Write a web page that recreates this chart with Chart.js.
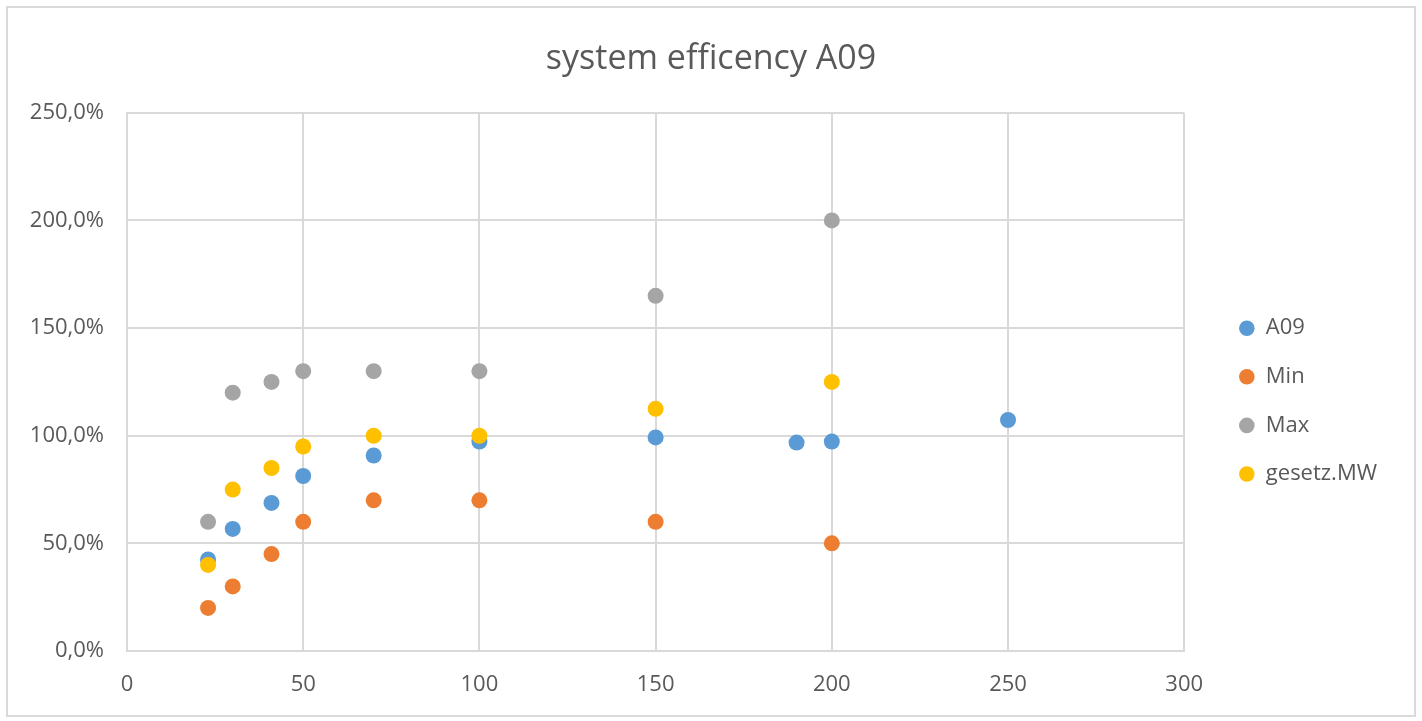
<!DOCTYPE html>
<html>
<head>
<meta charset="utf-8">
<title>system efficency A09</title>
<script src="https://cdn.jsdelivr.net/npm/chart.js@4/dist/chart.umd.min.js"></script>
<style>
    html, body {
        margin: 0;
        padding: 0;
        background: #ffffff;
    }
    #wrap {
        position: relative;
        width: 1422px;
        height: 721px;
    }
    #frame {
        position: absolute;
        left: 6px;
        top: 6px;
        width: 1406px;
        height: 707px;
        border: 2px solid #d9d9d9;
        pointer-events: none;
    }
</style>
</head>
<body>
<div id="wrap">
    <canvas id="chart" width="1422" height="721"></canvas>
    <div id="frame"></div>
</div>
<script>
/* global Chart */

const seriesNames = ['A09', 'Min', 'Max', 'gesetz.MW'];
const seriesColors = ['#5b9bd5', '#ed7d31', '#a5a5a5', '#ffc000'];

// x values per series (load / size), y values in percent
const a09X = [23, 30, 41, 50, 70, 100, 150, 190, 200, 250];
const a09Y = [42.5, 56.7, 68.8, 81.3, 90.8, 97.3, 99.2, 96.8, 97.3, 107.3];

const minX = [23, 30, 41, 50, 70, 100, 150, 200];
const minY = [20, 30, 45, 60, 70, 70, 60, 50];

const maxX = [23, 30, 41, 50, 70, 100, 150, 200];
const maxY = [60, 120, 125, 130, 130, 130, 165, 200];

const mwX = [23, 30, 41, 50, 70, 100, 150, 200];
const mwY = [40, 75, 85, 95, 100, 100, 112.5, 125];

const xTicks = [0, 50, 100, 150, 200, 250, 300];
const yTicks = [0, 50, 100, 150, 200, 250];

const textColor = '#595959';
const gridColor = '#d9d9d9';
const fontFamily = '"Open Sans", "Noto Sans", sans-serif';

const toPoints = (xs, ys) => xs.map((x, i) => ({ x, y: ys[i] }));

const formatPercent = (value) => value.toFixed(1).replace('.', ',') + '%';

const seriesData = [
    toPoints(a09X, a09Y),
    toPoints(minX, minY),
    toPoints(maxX, maxY),
    toPoints(mwX, mwY)
];

// later series are painted on top, like the original
const datasets = seriesNames.map((name, index) => ({
    label: name,
    data: seriesData[index],
    backgroundColor: seriesColors[index],
    borderColor: seriesColors[index],
    borderWidth: 0,
    pointRadius: 8,
    pointHoverRadius: 8,
    pointStyle: 'circle',
    order: seriesNames.length - index
}));

// empty right-hand axes, only used as fixed-width gaps around the legend
const spacerAxis = (width, weight) => ({
    type: 'linear',
    position: 'right',
    display: true,
    weight,
    grid: { display: false },
    border: { display: false },
    ticks: { display: false },
    afterFit: (scale) => {
        scale.width = width;
    }
});

new Chart(document.getElementById('chart'), {
    type: 'scatter',
    data: { datasets },
    options: {
        responsive: false,
        animation: false,
        layout: {
            padding: { left: 5, right: 5, top: 0, bottom: 24 }
        },
        plugins: {
            title: {
                display: true,
                text: 'system efficency A09',
                color: textColor,
                font: { family: fontFamily, size: 34, weight: 'normal' },
                padding: { top: 39, bottom: 33 }
            },
            legend: {
                position: 'right',
                fullSize: false,
                align: 'center',
                title: {
                    display: true,
                    text: '',
                    font: { size: 2 },
                    padding: { top: 36, bottom: 0 }
                },
                labels: {
                    usePointStyle: true,
                    boxWidth: 16,
                    boxHeight: 11,
                    padding: 26.6,
                    color: textColor,
                    font: { family: fontFamily, size: 22 },
                    sort: (a, b) => a.datasetIndex - b.datasetIndex
                }
            },
            tooltip: { enabled: false }
        },
        scales: {
            x: {
                type: 'linear',
                min: xTicks[0],
                max: xTicks[xTicks.length - 1],
                afterBuildTicks: (scale) => {
                    scale.ticks = xTicks.map((value) => ({ value }));
                },
                afterFit: (scale) => {
                    scale.height = 46;
                },
                grid: { color: gridColor, lineWidth: 2, drawTicks: false },
                border: { color: gridColor, width: 2 },
                ticks: {
                    color: textColor,
                    padding: 21,
                    font: { family: fontFamily, size: 22 }
                }
            },
            y: {
                type: 'linear',
                min: yTicks[0],
                max: yTicks[yTicks.length - 1],
                afterBuildTicks: (scale) => {
                    scale.ticks = yTicks.map((value) => ({ value }));
                },
                afterFit: (scale) => {
                    scale.width = 122;
                },
                grid: { color: gridColor, lineWidth: 2, drawTicks: false },
                border: { color: gridColor, width: 2 },
                ticks: {
                    color: textColor,
                    padding: 23,
                    font: { family: fontFamily, size: 22 },
                    callback: (value) => formatPercent(value)
                }
            },
            gapInner: spacerAxis(28, 0),
            gapOuter: spacerAxis(30, 2000)
        }
    }
});
</script>
</body>
</html>
